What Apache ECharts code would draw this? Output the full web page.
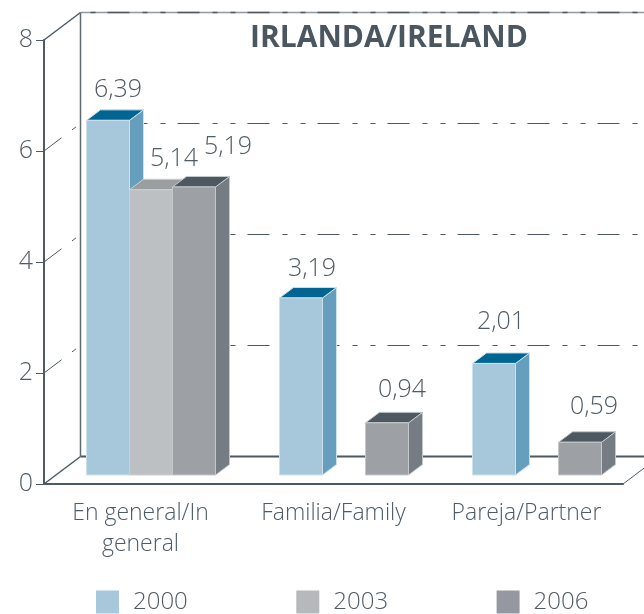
<!DOCTYPE html>
<html>
<head>
<meta charset="utf-8">
<style>
html, body { margin: 0; padding: 0; background: #fff; }
#main { width: 644px; height: 614px; }
</style>
<script src="https://cdn.jsdelivr.net/npm/echarts@6/dist/echarts.min.js"></script>
</head>
<body>
<div id="main"></div>
<script>
var categories = ['En general/In\ngeneral', 'Familia/Family', 'Pareja/Partner'];
var years = ['2000', '2003', '2006'];
var values2000 = [6.39, 3.19, 2.01];
var values2003 = [5.14, null, null];
var values2006 = [5.19, 0.94, 0.59];
var yTicks = [0, 2, 4, 6, 8];

var FONT = '"Open Sans", "Noto Sans", sans-serif';
var INK = '#4f5c65';
var AXIS = '#4d5a63';

// depth of the fake 3d box
var wallDx = 36.5, wallDy = -27.5;
var floorDy = -9;
var barDx = 14, barDy = -10.5;
var barShare = 43 / 193;
var dash = [22, 13, 5, 13, 5, 12];

var skins = {
    '2000': { front: '#a6c8da', side: '#659fbd', top: '#006592', edge: '#cde1ea', slot: 0 },
    '2003': { front: '#bcc0c3', side: '#8f9498', top: '#9a9ea1', edge: '#cdd0d2', slot: 1 },
    '2006': { front: '#9da1a5', side: '#767c83', top: '#4d5860', edge: '#c5c9cb', slot: 2 }
};

// hand placed labels, same as in the printed figure  [dx, dy] from bar top centre
var labelNudge = {
    '2000': [[10, -30], [11, -29], [7, -42]],
    '2003': [[23, -31]],
    '2006': [[34, -40], [15, -33], [14, -35]]
};

function rows(values) {
    var out = [];
    for (var i = 0; i < values.length; i++) {
        if (values[i] !== null) {
            out.push([i, values[i]]);
        }
    }
    return out;
}

function poly(points, fill, edge) {
    return {
        type: 'polygon',
        shape: { points: points },
        style: { fill: fill, stroke: edge, lineWidth: 1 }
    };
}

function barItem(year) {
    var skin = skins[year];
    return function (params, api) {
        var idx = api.value(0);
        var val = api.value(1);
        var top = api.coord([idx, val]);
        var base = api.coord([idx, 0]);
        var w = api.size([1, 0])[0] * barShare;
        var x0 = top[0] - 54 + skin.slot * w;
        var x1 = x0 + w;
        var yt = top[1] + floorDy;
        var yb = base[1] + floorDy;
        var nudge = labelNudge[year][idx];
        return {
            type: 'group',
            children: [
                poly([[x1, yt], [x1 + barDx, yt + barDy], [x1 + barDx, yb + barDy], [x1, yb]], skin.side, skin.edge),
                poly([[x0, yt], [x0 + barDx, yt + barDy], [x1 + barDx, yt + barDy], [x1, yt]], skin.top, skin.edge),
                poly([[x0, yt], [x1, yt], [x1, yb], [x0, yb]], skin.front, skin.edge),
                {
                    type: 'text',
                    style: {
                        x: (x0 + x1) / 2 + nudge[0],
                        y: yt + nudge[1],
                        text: val.toFixed(2).replace('.', ','),
                        align: 'center',
                        verticalAlign: 'middle',
                        font: '300 25px ' + FONT,
                        fill: INK
                    }
                }
            ]
        };
    };
}

function wallItem(params, api) {
    var tick = api.value(1);
    var p = api.coord([0, tick]);
    var x = params.coordSys.x;
    var y = p[1];
    var backY = y + wallDy;
    var solid = tick === 0 || tick === 8;
    var kids = [{
        type: 'line',
        shape: { x1: x, y1: y, x2: x + wallDx, y2: backY },
        style: { stroke: AXIS, lineWidth: tick === 0 || tick === 8 ? 1.5 : 1, lineDash: solid ? null : dash }
    }];
    if (tick === 8) {
        // top edge: pale solid line with the dark dash over it
        kids.push({
            type: 'line',
            shape: { x1: x + wallDx, y1: backY, x2: api.getWidth(), y2: backY },
            style: { stroke: '#8f9aa0', lineWidth: 1.5 }
        });
    }
    kids.push({
        type: 'line',
        shape: { x1: x + wallDx, y1: backY, x2: api.getWidth(), y2: backY },
        style: {
            stroke: AXIS,
            lineWidth: tick === 0 ? 2 : (tick === 8 ? 1.5 : 1),
            lineDash: tick === 0 ? null : dash,
            lineDashOffset: 43
        }
    });
    if (tick === 8) {
        // back corner of the box
        var floor = api.coord([0, 0]);
        kids.push({
            type: 'line',
            shape: { x1: x + wallDx, y1: backY, x2: x + wallDx, y2: floor[1] + wallDy },
            style: { stroke: '#5d6a72', lineWidth: 1.5 }
        });
    }
    if (tick === 0) {
        // right floor edge
        var right = x + params.coordSys.width;
        kids.push({
            type: 'line',
            shape: { x1: right, y1: y, x2: right + wallDx, y2: backY },
            style: { stroke: AXIS, lineWidth: 1 }
        });
    }
    return { type: 'group', children: kids };
}

var option = {
    animation: false,
    backgroundColor: '#fff',
    title: {
        text: 'IRLANDA/IRELAND',
        left: 250,
        top: 23,
        padding: 0,
        textStyle: { fontFamily: FONT, fontSize: 30, fontWeight: 'bold', color: '#4a5660' }
    },
    legend: {
        left: 96,
        top: 590,
        padding: 0,
        itemWidth: 23,
        itemHeight: 23,
        itemGap: 108.5,
        selectedMode: false,
        textStyle: { fontFamily: FONT, fontWeight: 300, fontSize: 24, color: INK, padding: [0, 0, 0, 9] },
        data: [
            { name: '2000', icon: 'rect', itemStyle: { color: '#a6c8da' } },
            { name: '2003', icon: 'rect', itemStyle: { color: '#b5b9bc' } },
            { name: '2006', icon: 'rect', itemStyle: { color: '#9598a0' } }
        ]
    },
    grid: { left: 44, right: 21, top: 40, bottom: 130 },
    xAxis: {
        type: 'category',
        data: categories,
        axisLine: { lineStyle: { color: AXIS, width: 2 } },
        axisTick: { length: 7, lineStyle: { color: AXIS } },
        axisLabel: {
            interval: 0,
            margin: 14,
            lineHeight: 31,
            fontFamily: FONT,
            fontWeight: 300,
            fontSize: 23,
            color: INK
        }
    },
    yAxis: {
        type: 'value',
        min: 0,
        max: 8,
        interval: 2,
        splitLine: { show: false },
        axisLine: { show: true, lineStyle: { color: AXIS, width: 2 } },
        axisTick: { show: true, length: 8, lineStyle: { color: AXIS } },
        axisLabel: { margin: 11, fontFamily: FONT, fontWeight: 300, fontSize: 25, color: INK }
    },
    series: [{
        name: 'wall',
        type: 'custom',
        silent: true,
        renderItem: wallItem,
        encode: { x: 0, y: 1 },
        data: yTicks.map(function (t) { return [0, t]; }),
        z: 1
    }, {
        name: years[0],
        type: 'custom',
        renderItem: barItem(years[0]),
        encode: { x: 0, y: 1 },
        itemStyle: { color: skins['2000'].front },
        data: rows(values2000),
        z: 2
    }, {
        name: years[1],
        type: 'custom',
        renderItem: barItem(years[1]),
        encode: { x: 0, y: 1 },
        itemStyle: { color: skins['2003'].front },
        data: rows(values2003),
        z: 3
    }, {
        name: years[2],
        type: 'custom',
        renderItem: barItem(years[2]),
        encode: { x: 0, y: 1 },
        itemStyle: { color: skins['2006'].front },
        data: rows(values2006),
        z: 4
    }]
};

var chart = echarts.init(document.getElementById('main'));
chart.setOption(option);
</script>
</body>
</html>
